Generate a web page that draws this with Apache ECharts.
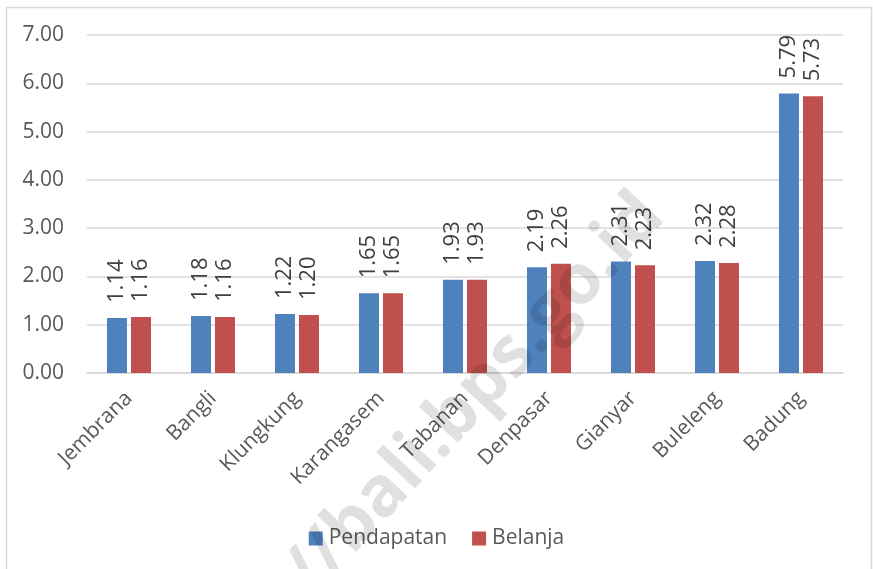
<!DOCTYPE html>
<html>
<head>
<meta charset="utf-8">
<script src="https://cdn.jsdelivr.net/npm/echarts@6/dist/echarts.min.js"></script>
<style>html,body{margin:0;padding:0;background:#fff;}#c{width:873px;height:569px;}</style>
</head>
<body>
<div id="c"></div>
<script>
const categories = ["Jembrana","Bangli","Klungkung","Karangasem","Tabanan","Denpasar","Gianyar","Buleleng","Badung"];
const pendapatan = [1.14,1.18,1.22,1.65,1.93,2.19,2.31,2.32,5.79];
const belanja = [1.16,1.16,1.20,1.65,1.93,2.26,2.23,2.28,5.73];
const seriesNames = ["Pendapatan","Belanja"];
const yTicks = {min:0, max:7, interval:1};

const FONT = '"Open Sans", sans-serif';
const chart = echarts.init(document.getElementById('c'), null, {renderer:'canvas'});
const valLabel = {
  show:true, position:'top', rotate:90, align:'left', verticalAlign:'middle', distance:15,
  fontFamily:FONT, fontSize:22, color:'#404040',
  formatter:p=>p.value.toFixed(2)
};
chart.setOption({
  animation:false,
  textStyle:{fontFamily:FONT},
  grid:{left:87, right:30, top:35, bottom:196},
  legend:{
    bottom:'auto', top:523, left:'center', itemWidth:14, itemHeight:14, itemGap:25,
    icon:'rect',
    textStyle:{fontFamily:FONT, fontSize:21, color:'#595959', padding:[0,0,0,1]},
    data:seriesNames
  },
  xAxis:{
    type:'category', data:categories,
    axisLine:{lineStyle:{color:'#d9d9d9', width:1.5}},
    axisTick:{show:false},
    axisLabel:{rotate:45, margin:22, fontFamily:FONT, fontSize:21, color:'#595959', interval:0}
  },
  yAxis:{
    type:'value', min:yTicks.min, max:yTicks.max, interval:yTicks.interval,
    axisLine:{show:false}, axisTick:{show:false},
    splitLine:{lineStyle:{color:'#d9d9d9', width:1.5}},
    axisLabel:{margin:23, fontFamily:FONT, fontSize:21, color:'#595959', formatter:v=>v.toFixed(2)}
  },
  series:[
    {name:seriesNames[0], type:'bar', data:pendapatan, barWidth:20, barGap:'20%',
     itemStyle:{color:'#4F81BD'}, label:valLabel},
    {name:seriesNames[1], type:'bar', data:belanja, barWidth:20, barGap:'20%',
     itemStyle:{color:'#C0504D'}, label:valLabel}
  ],
  graphic:[
    {type:'rect', left:4, top:5, z:-10, shape:{width:865, height:600},
     style:{fill:'none', stroke:'#d9d9d9', lineWidth:1.5}},
    {type:'text', x:405, y:470, rotation:47*Math.PI/180, z:100,
     style:{text:'https://bali.bps.go.id', fontFamily:FONT, fontWeight:'bold', fontSize:70,
       fill:'rgba(0,0,0,0.12)', align:'center', verticalAlign:'middle'}}
  ]
});
</script>
</body>
</html>
